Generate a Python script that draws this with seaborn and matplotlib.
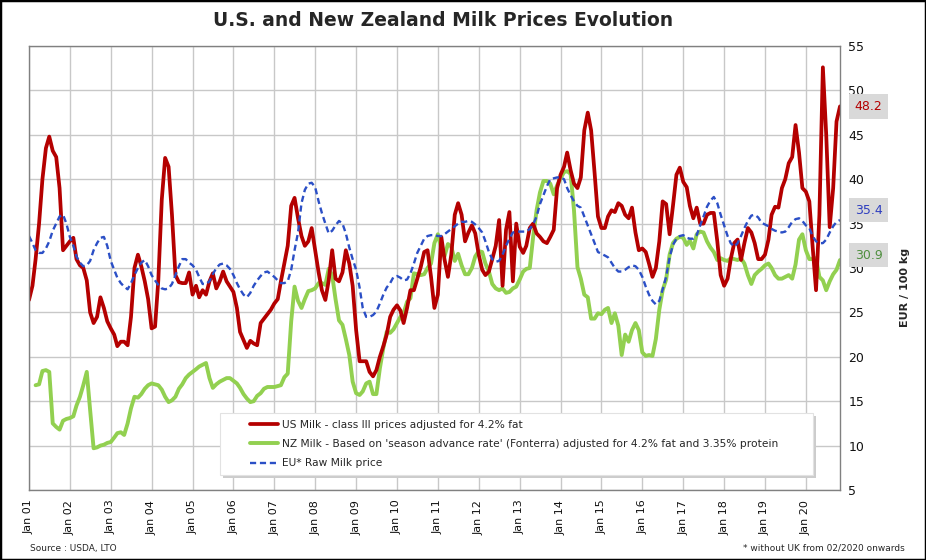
import numpy as np
import pandas as pd
import matplotlib
matplotlib.use("Agg")
import matplotlib.pyplot as plt
import seaborn as sns

nan = np.nan

chart_title = "U.S. and New Zealand Milk Prices Evolution"
y_label = "EUR / 100 kg"
source_note = "Source : USDA, LTO"
foot_note = "* without UK from 02/2020 onwards"
series_names = [
    "US Milk - class III prices adjusted for 4.2% fat",
    "NZ Milk - Based on 'season advance rate' (Fonterra) adjusted for 4.2% fat and 3.35% protein",
    "EU* Raw Milk price",
]
start_month = "2001-01-01"
tick_years = list(range(2001, 2021))
y_ticks = list(range(5, 56, 5))

# monthly values, EUR/100 kg, Jan 2001 .. Nov 2020 (one year per line)
us_milk = [
    26.4, 28.0, 31.0, 35.0, 40.0, 43.5, 44.8, 43.2, 42.5, 39.0, 32.0, 32.5,
    33.0, 33.4, 31.0, 30.3, 30.0, 28.6, 25.0, 23.8, 24.5, 26.7, 25.5, 24.0,
    23.2, 22.5, 21.2, 21.7, 21.7, 21.3, 24.5, 30.0, 31.5, 30.2, 28.5, 26.5,
    23.2, 23.4, 28.6, 37.7, 42.4, 41.4, 36.0, 29.2, 28.4, 28.3, 28.3, 29.5,
    27.0, 28.0, 26.7, 27.5, 27.0, 28.5, 29.4, 27.7, 28.5, 29.6, 28.5, 27.9,
    27.3, 25.5, 22.8, 21.9, 21.0, 21.8, 21.5, 21.3, 23.8, 24.3, 24.8, 25.3,
    26.0, 26.5, 28.5, 30.5, 32.5, 37.0, 37.9, 35.6, 33.6, 32.5, 33.0, 34.5,
    32.0, 29.5, 27.5, 26.4, 28.6, 32.0, 28.8, 28.5, 29.5, 32.0, 30.5, 28.0,
    23.0, 19.5, 19.5, 19.5, 18.3, 17.8, 18.5, 20.0, 21.2, 22.5, 24.5, 25.3,
    25.8, 25.2, 23.8, 25.5, 27.5, 27.5, 28.8, 30.1, 31.8, 32.0, 29.0, 25.5,
    27.0, 33.5, 31.0, 29.0, 31.5, 36.0, 37.3, 36.0, 33.0, 34.0, 34.8, 33.9,
    31.5, 29.8, 29.2, 29.6, 31.0, 32.5, 35.4, 28.0, 34.3, 36.3, 28.5, 35.0,
    32.4, 31.7, 32.5, 34.5, 35.0, 33.9, 33.5, 33.0, 32.8, 33.5, 34.3, 39.0,
    40.5, 41.4, 43.0, 41.0, 39.5, 39.0, 40.2, 45.5, 47.5, 45.5, 40.7, 35.8,
    34.5, 34.5, 35.8, 36.5, 36.3, 37.3, 37.0, 36.0, 35.6, 36.8, 34.0, 32.0,
    32.2, 31.8, 30.5, 29.0, 30.0, 33.0, 37.5, 37.2, 33.8, 37.0, 40.5, 41.3,
    39.7, 39.1, 37.0, 35.6, 36.8, 35.0, 35.0, 36.0, 36.2, 36.2, 33.0, 29.2,
    28.0, 28.8, 31.0, 32.8, 33.2, 30.9, 32.8, 34.5, 34.0, 32.8, 31.0, 31.0,
    31.5, 33.2, 36.0, 36.9, 36.8, 39.0, 40.0, 41.8, 42.5, 46.1, 43.0, 39.0,
    38.6, 37.5, 32.5, 27.5, 36.0, 52.6, 45.0, 34.6, 39.0, 46.5, 48.2,
]

nz_milk = [
    nan, nan, 16.8, 16.9, 18.4, 18.5, 18.3, 12.5, 12.1, 11.8, 12.8, 13.0,
    13.1, 13.3, 14.5, 15.5, 16.8, 18.3, 14.0, 9.7, 9.8, 10.0, 10.1, 10.3,
    10.4, 10.9, 11.4, 11.5, 11.2, 12.5, 14.2, 15.5, 15.4, 15.8, 16.4, 16.8,
    17.0, 16.9, 16.8, 16.3, 15.5, 14.9, 15.1, 15.5, 16.4, 16.9, 17.6, 18.0,
    18.3, 18.6, 18.9, 19.1, 19.3, 17.6, 16.5, 16.9, 17.2, 17.4, 17.6, 17.6,
    17.3, 17.0, 16.5, 15.8, 15.3, 14.9, 15.0, 15.6, 15.9, 16.4, 16.6, 16.6,
    16.6, 16.7, 16.8, 17.7, 18.1, 24.0, 27.9, 26.3, 25.5, 26.5, 27.4, 27.5,
    27.7, 28.3, 28.3, 28.1, 29.9, 29.2, 26.5, 24.1, 23.6, 22.0, 20.2, 17.2,
    15.9, 15.7, 16.1, 17.0, 17.2, 15.8, 15.8, 18.7, 21.0, 22.8, 22.7, 23.1,
    23.8, 24.5, 24.9, 26.2, 26.6, 29.4, 29.3, 29.2, 29.3, 30.0, 30.5, 32.8,
    33.8, 32.2, 31.3, 32.7, 32.4, 30.8, 31.6, 30.3, 29.3, 29.3, 30.0, 31.3,
    31.9, 31.8, 30.5, 29.6, 28.2, 27.7, 27.5, 27.7, 27.2, 27.3, 27.7, 27.9,
    28.7, 29.6, 29.9, 30.0, 33.5, 36.5, 38.5, 39.8, 39.8, 39.5, 38.3, 39.3,
    40.1, 40.8, 40.9, 40.6, 36.5, 30.1, 28.8, 27.0, 26.7, 24.3, 24.3, 24.9,
    24.8, 25.3, 25.5, 23.8, 24.9, 23.5, 20.2, 22.5, 21.7, 23.0, 23.8, 23.0,
    20.5, 20.1, 20.2, 20.1, 22.0, 25.3, 27.5, 28.7, 31.5, 32.8, 33.3, 33.5,
    33.4, 32.6, 33.1, 32.2, 33.8, 34.1, 34.0, 33.0, 32.3, 31.8, 30.9, 31.1,
    30.9, 30.8, 31.1, 31.0, 30.9, 31.1, 30.5, 29.2, 28.2, 29.2, 29.6, 29.9,
    30.3, 30.5, 30.0, 29.2, 28.8, 28.8, 29.0, 29.2, 28.8, 30.4, 33.2, 33.8,
    32.0, 31.0, 31.0, 31.1, 29.0, 28.6, 27.5, 28.5, 29.3, 29.8, 30.9,
]

eu_milk = [
    33.6, 32.8, 32.0, 31.7, 31.7, 32.2, 33.0, 34.2, 35.0, 35.8, 36.0, 35.0,
    33.5, 32.5, 31.3, 30.6, 30.2, 30.3, 30.8, 32.0, 32.8, 33.4, 33.5, 32.5,
    30.8, 29.8, 28.9, 28.3, 27.9, 27.6, 28.3, 29.2, 30.0, 30.6, 30.9, 30.2,
    29.2, 28.6, 28.1, 27.7, 27.6, 27.7, 28.2, 29.2, 30.2, 31.0, 31.0, 30.6,
    30.3, 29.8, 29.0, 28.2, 28.2, 28.5, 29.3, 30.0, 30.4, 30.5, 30.3, 29.9,
    29.2, 28.3, 27.6, 27.0, 26.7, 27.2, 28.0, 28.6, 29.1, 29.5, 29.6, 29.3,
    29.0, 28.6, 28.3, 28.3, 28.5, 29.8, 32.0, 34.0, 37.3, 38.8, 39.5, 39.6,
    39.1, 37.5, 36.2, 35.0, 33.9, 34.2, 34.8, 35.3, 35.0, 33.9, 32.3, 31.0,
    29.8, 27.8, 25.5, 24.5, 24.5, 24.7, 25.1, 26.0, 27.0, 27.8, 28.3, 29.0,
    29.1, 28.9, 28.6, 28.7, 29.4, 30.5, 31.7, 32.5, 33.3, 33.6, 33.7, 33.7,
    33.6, 33.6, 33.8, 34.1, 34.4, 34.7, 35.0, 35.2, 35.2, 35.3, 35.2, 34.9,
    34.5, 34.0, 33.0, 31.8, 31.0, 30.7, 30.8, 31.5, 32.5, 33.3, 34.0, 34.1,
    34.1, 34.1, 34.1, 34.4, 34.9, 35.8, 37.2, 38.2, 39.2, 40.0, 40.1, 40.2,
    40.2, 40.0, 39.0, 38.2, 37.5, 37.0, 36.8, 35.8, 34.8, 33.8, 32.8, 31.8,
    31.6, 31.4, 31.2, 30.6, 30.0, 29.6, 29.6, 29.8, 30.1, 30.3, 30.2, 29.8,
    29.0, 27.9, 27.0, 26.3, 25.9, 26.3, 27.6, 29.0, 31.2, 32.6, 33.3, 33.6,
    33.7, 33.4, 33.3, 33.3, 33.7, 34.8, 35.8, 36.9, 37.6, 38.0, 37.3, 36.0,
    34.8, 33.6, 32.8, 32.4, 32.8, 33.6, 34.5, 35.3, 35.9, 36.0, 35.7, 35.1,
    34.9, 34.7, 34.4, 34.2, 34.1, 34.0, 34.1, 34.6, 35.2, 35.5, 35.6, 35.3,
    34.8, 34.5, 33.6, 33.0, 32.8, 32.8, 33.2, 34.0, 34.7, 35.2, 35.4,
]

us_color = "#b40000"
nz_color = "#92d050"
eu_color = "#2b4fc6"

months = pd.date_range(start_month, periods=len(us_milk), freq="MS")
df = pd.DataFrame({"month": months, "US": us_milk, "NZ": nz_milk, "EU": eu_milk})

sns.set_style("white")
plt.rcParams["font.family"] = ["DejaVu Sans"]

W, H = 926, 560
fig = plt.figure(figsize=(W / 100, H / 100), dpi=100)
ax = fig.add_axes([29 / W, 70 / H, 811 / W, 444 / H])

# green first, red over it, blue dashed on top
sns.lineplot(data=df, x="month", y="NZ", color=nz_color, lw=2.8, ax=ax,
             label=series_names[1], errorbar=None)
sns.lineplot(data=df, x="month", y="US", color=us_color, lw=2.7, ax=ax,
             label=series_names[0], errorbar=None)
sns.lineplot(data=df, x="month", y="EU", color=eu_color, lw=1.7, ax=ax,
             label=series_names[2], errorbar=None)
ax.lines[-1].set_dashes((2.6, 1.6))

ax.set_xlim(months[0], months[-1])
ax.set_ylim(y_ticks[0], y_ticks[-1])
ax.set_yticks(y_ticks)
ax.yaxis.tick_right()
ax.tick_params(axis="y", length=0, pad=6, labelsize=9, labelcolor="#111111")

jan_ticks = pd.to_datetime([f"{y}-01-01" for y in tick_years])
ax.set_xticks(jan_ticks)
ax.set_xticklabels([f"Jan {y % 100:02d}" for y in tick_years], rotation=90,
                   fontsize=8, color="#111111")
ax.tick_params(axis="x", length=0, pad=7)
ax.set_xlabel("")
ax.set_ylabel("")

ax.grid(True, color="#c8c8c8", lw=1)
for sp in ax.spines.values():
    sp.set_visible(True)
    sp.set_color("#808080")
    sp.set_linewidth(1)

# legend box drawn by hand (wide white panel with a soft shadow)
box_x0, box_y0, box_x1, box_y1 = 220, 413, 813, 475
ax.add_patch(plt.Rectangle((box_x0 / W + 3 / W, 1 - (box_y1 + 3) / H),
                           (box_x1 - box_x0) / W, (box_y1 - box_y0) / H,
                           transform=fig.transFigure, fc="#cccccc", ec="none",
                           zorder=3.9, clip_on=False))
ax.add_patch(plt.Rectangle((box_x0 / W, 1 - box_y1 / H),
                           (box_x1 - box_x0) / W, (box_y1 - box_y0) / H,
                           transform=fig.transFigure, fc="white", ec="#e2e2e2",
                           lw=0.8, zorder=4, clip_on=False))

handles, labels = ax.get_legend_handles_labels()
order = [labels.index(n) for n in series_names]
leg = ax.legend([handles[i] for i in order], [labels[i] for i in order],
                loc="upper left", bbox_to_anchor=(250 / W, 1 - 420 / H),
                bbox_transform=fig.transFigure, fontsize=7.7, frameon=False,
                handlelength=2.6, handletextpad=0.37, labelspacing=0.86,
                borderpad=0, borderaxespad=0)
leg.set_zorder(5)

# last values in grey boxes at the right
last_labels = [
    (us_milk[-1], us_color, 0),
    (eu_milk[-1], "#2f3fbf", 7),
    (nz_milk[-1], "#4f8f3f", 3.5),
]
for val, col, dy in last_labels:
    ax.annotate(f"{val:.1f}", xy=(1, val), xycoords=("axes fraction", "data"),
                xytext=(10.5, dy), textcoords="offset points",
                ha="left", va="center", fontsize=9, color=col,
                bbox=dict(boxstyle="square,pad=0.45", fc="#d9d9d9", ec="none"),
                annotation_clip=False)

fig.text(905 / W, 1 - 287 / H, y_label, rotation=90, ha="center",
         va="center", fontsize=8, fontweight="bold")
fig.text(443 / W, 1 - 20 / H, chart_title, ha="center", va="center",
         fontsize=13.5, fontweight="bold")
fig.text(30 / W, 1 - 548 / H, source_note, ha="left", va="center",
         fontsize=6.5)
fig.text(905 / W, 1 - 548 / H, foot_note, ha="right", va="center",
         fontsize=6.5)

fig.patches.append(plt.Rectangle((0, 0), 1, 1, transform=fig.transFigure,
                                 fill=False, ec="black", lw=2.5))

fig.savefig("out.png", dpi=100)
